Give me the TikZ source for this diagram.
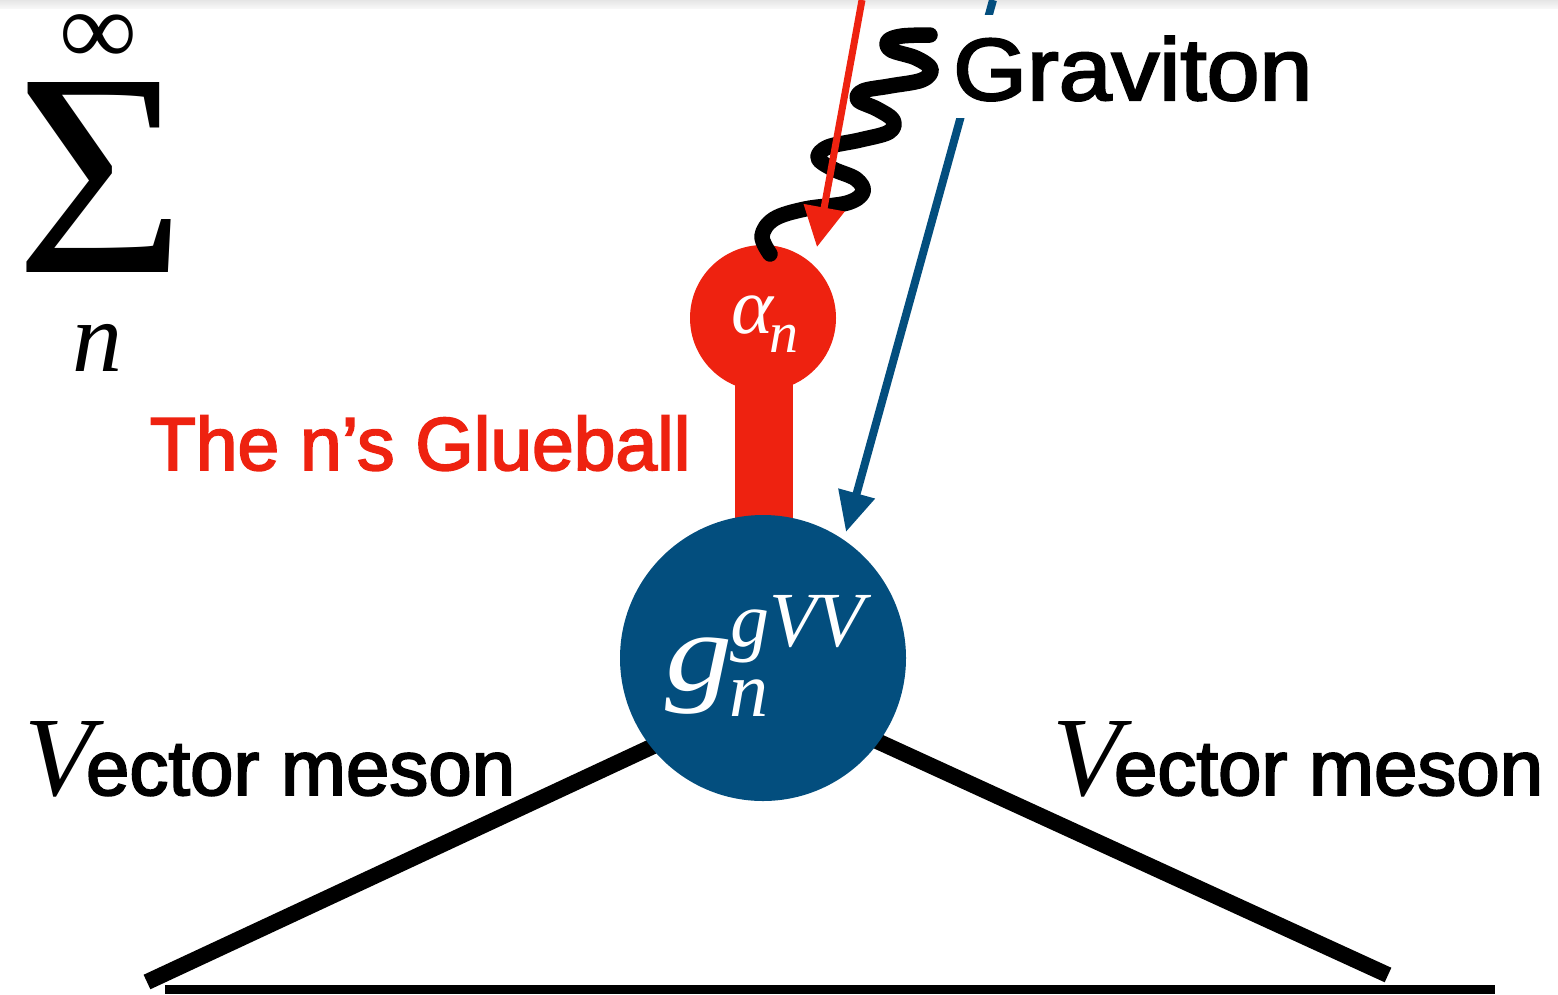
\documentclass[tikz,border=0pt]{standalone}
\usepackage{fontspec}
\setmainfont{Liberation Serif}
\newfontfamily\sansf[FakeBold=2.5]{Liberation Sans}
\usetikzlibrary{arrows.meta}
\definecolor{gred}{RGB}{238,34,16}
\definecolor{gblue}{RGB}{3,78,126}
\tikzset{
  lbl/.style={inner sep=0pt, outer sep=0pt},
  meson/.style={line width=16pt, black},
  blob/.style={circle, inner sep=0pt},
}
\begin{document}
\begin{tikzpicture}[x=1pt,y=-1pt]
\useasboundingbox (0,0) rectangle (1558,994);
% top strip
\shade[top color=black!10, bottom color=black!3] (0,0) rectangle (1558,8);
% sum
\node[lbl, anchor=base] (sig) at (101,272) {\fontsize{248}{248}\selectfont\scalebox{1.18}[1.17]{Σ}};
\node[lbl] (inf) at (98,40) {\fontsize{104}{104}\selectfont\scalebox{1.05}[1.0]{∞}};
\node[lbl, anchor=base] (nn) at (97,371) {\fontsize{100}{100}\selectfont\itshape n};
% stem and glueball
\fill[gred] (735,360) rectangle (793,560);
\node[blob, fill=gred, minimum size=146pt] (alpha) at (763,318) {};
% meson lines
\coordinate (l1) at (147,982);
\coordinate (l2) at (662,742);
\coordinate (r1) at (1388,975);
\coordinate (r2) at (866,736);
\draw[meson] (l1) -- (l2);
\draw[meson] (r1) -- (r2);
\node[blob, fill=gblue, minimum size=286pt] (gc) at (763,658) {};
\fill[black] (165,985) rectangle (1495,994);
% labels in circles
\node[lbl, anchor=base west, text=white] (an) at (731,333)
  {\fontsize{80}{80}\selectfont\itshape α\hspace{-4pt}\raisebox{-19pt}{\fontsize{58}{58}\selectfont n}};
\node[lbl, anchor=base west, text=white] (gn) at (665,690)
  {\itshape\fontsize{112}{112}\selectfont\scalebox{1.2}[1]{g}\hspace{-3pt}\fontsize{78}{78}\selectfont\rlap{\raisebox{-26pt}{n}}\hspace{1pt}\raisebox{44pt}{gVV}};
% graviton wiggle
\draw[line width=15.5pt, line cap=round, line join=round] plot[smooth, tension=0.6] coordinates {
 (770,254) (762,236) (774,219) (805,209) (847,203) (863,192) (856,179) (833,169)
 (818,158) (828,147) (860,140) (889,132) (893,120) (877,109) (858,100) (863,91)
 (890,86) (922,80) (931,69) (916,58) (891,50) (888,41) (902,36) (930,35)};
% blue arrow
\coordinate (btop) at (993,0);
\coordinate (btip) at (846,532);
\draw[gblue, line width=8pt, -{Triangle[length=40pt, width=36pt]}] (btop) -- (btip);
% graviton label (covers arrow)
\node[anchor=base west, fill=white, inner xsep=4pt, inner ysep=0pt, text height=85pt, text depth=18pt] (grav) at (949,100)
  {\sansf\fontsize{88}{88}\selectfont\scalebox{1.08}[1]{Graviton}};
% red arrow
\coordinate (rtop) at (862,0);
\coordinate (rtip) at (817,247);
\draw[gred, line width=7pt, -{Triangle[length=40pt, width=40pt]}] (rtop) -- (rtip);
% glueball label
\node[lbl, anchor=base west, text=gred] (glue) at (150,470) {\sansf\fontsize{75}{75}\selectfont The n’s Glueball};
% vector meson labels
\node[lbl, anchor=base west] (v1) at (24,795) {\fontsize{113}{113}\selectfont\itshape V};
\node[lbl, anchor=base west] (m1) at (86,795) {\sansf\fontsize{78}{78}\selectfont ector meson};
\node[lbl, anchor=base west] (v2) at (1052,795) {\fontsize{113}{113}\selectfont\itshape V};
\node[lbl, anchor=base west] (m2) at (1114,795) {\sansf\fontsize{78}{78}\selectfont ector meson};
\end{tikzpicture}
\end{document}
